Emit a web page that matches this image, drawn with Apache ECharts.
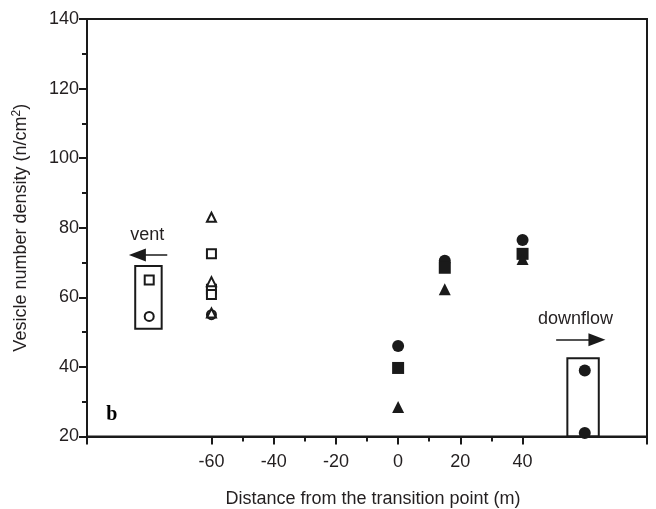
<!DOCTYPE html>
<html>
<head>
<meta charset="utf-8">
<script src="https://cdn.jsdelivr.net/npm/echarts@6/dist/echarts.min.js"></script>
<style>
  html, body { margin: 0; padding: 0; background: #fff; }
  #chart { width: 656px; height: 509px; }
</style>
</head>
<body>
<div id="chart"></div>
<script>
// values (x = distance in m, y = vesicles per cm2)
const openCircle = [[-80, 54.5], [-60, 55]];
const openSquare = [[-80, 65], [-60, 72.5], [-60, 62.3], [-60, 60.8]];
const openTriangle = [[-60, 83], [-60, 64.5], [-60, 55.5]];
const filledCircle = [[0, 46], [15, 70.5], [40, 76.5], [60, 39], [60, 21]];
const filledSquare = [[0, 39.7], [15, 68.5], [40, 72.5]];
const filledTriangle = [[0, 28.5], [15, 62.3], [40, 71]];

const xLabels = [-60, -40, -20, 0, 20, 40];
const xMajorTicks = [-100, -60, -40, -20, 0, 20, 40, 80];
const xMinorTicks = [-50, -30, -10, 10, 30];

// boxes, arrows and notes (data coords)
const ventBox = [[-84.5, 69], [-76, 51]];
const downflowBox = [[54.4, 42.5], [64.5, 17.9]];
const ventArrow = [[-74.2, 72.2], [-83.8, 72.2]];
const downflowArrow = [[50.8, 47.8], [63.9, 47.8]];
const notes = [
    { text: 'vent', at: [-80.6, 77.8] },
    { text: 'downflow', at: [57, 53.7] },
    { text: 'b', at: [-92, 26.2], serif: true }
];

const ink = '#1a1a1a';
const textColor = '#231f20';
const font = '"Liberation Sans", Arial, Helvetica, sans-serif';

document.addEventListener('DOMContentLoaded', function () {
    const chart = echarts.init(document.getElementById('chart'));

    function openSeries(symbol, data) {
        return {
            type: 'scatter', symbol: symbol, symbolSize: 9, data: data,
            itemStyle: { color: '#fff', borderColor: ink, borderWidth: 2, opacity: 1 },
            silent: true, z: 3
        };
    }
    function filledSeries(symbol, data, size) {
        return {
            type: 'scatter', symbol: symbol, symbolSize: size, data: data,
            itemStyle: { color: ink, opacity: 1 },
            silent: true, z: 3
        };
    }

    const option = {
        animation: false,
        grid: {
            left: 87, right: 9, top: 19, bottom: 72.5,
            outerBoundsMode: 'none', containLabel: false,
            show: true, borderColor: ink, borderWidth: 2,
            backgroundColor: 'transparent'
        },
        xAxis: [
            {
                type: 'value', min: -100, max: 80, interval: 20,
                position: 'bottom',
                name: 'Distance from the transition point (m)',
                nameLocation: 'middle', nameGap: 54,
                nameTextStyle: { fontFamily: font, fontSize: 18, color: textColor, padding: [0, 0, 0, 12] },
                axisLine: { onZero: false, lineStyle: { color: ink, width: 2 } },
                axisTick: { customValues: xMajorTicks, length: 8, lineStyle: { color: ink, width: 2 } },
                axisLabel: {
                    customValues: xLabels, margin: 17,
                    fontFamily: font, fontSize: 18, color: textColor
                },
                splitLine: { show: false }
            },
            {
                type: 'value', min: -100, max: 80, interval: 20,
                position: 'bottom',
                axisLine: { show: false, onZero: false },
                axisTick: { customValues: xMinorTicks, length: 5, lineStyle: { color: ink, width: 2 } },
                axisLabel: { show: false },
                splitLine: { show: false }
            }
        ],
        yAxis: {
            type: 'value', min: 20, max: 140, interval: 20,
            position: 'left',
            name: 'Vesicle number density (n/cm{sup|2})',
            nameLocation: 'middle', nameGap: 56,
            nameTextStyle: {
                fontFamily: font, fontSize: 18, color: textColor,
                rich: { sup: { fontFamily: font, fontSize: 12, color: textColor, padding: [0, 0, 8, 0] } }
            },
            axisLine: { onZero: false, lineStyle: { color: ink, width: 2 } },
            axisTick: { length: 8, lineStyle: { color: ink, width: 2 } },
            minorTick: { show: true, splitNumber: 2, length: 5, lineStyle: { color: ink, width: 2 } },
            axisLabel: { margin: 8, fontFamily: font, fontSize: 18, color: textColor },
            splitLine: { show: false }
        },
        series: [
            openSeries('circle', openCircle),
            openSeries('rect', openSquare),
            openSeries('triangle', openTriangle),
            filledSeries('circle', filledCircle, 12),
            filledSeries('rect', filledSquare, 12),
            filledSeries('triangle', filledTriangle, 12),
            {
                type: 'scatter', symbolSize: 0, clip: false, silent: true, z: 4,
                itemStyle: { opacity: 1 },
                data: notes.map(function (n) {
                    return {
                        value: n.at,
                        label: n.serif
                            ? { formatter: n.text, fontFamily: '"Liberation Serif", "Times New Roman", serif', fontWeight: 'bold', fontSize: 20, color: '#000' }
                            : { formatter: n.text }
                    };
                }),
                label: { show: true, position: 'inside', fontFamily: font, fontSize: 18, color: textColor, opacity: 1 },
                markArea: {
                    silent: true,
                    itemStyle: { color: 'rgba(0,0,0,0)', borderColor: ink, borderWidth: 2, opacity: 1 },
                    label: { show: false },
                    data: [
                        [{ coord: ventBox[0] }, { coord: ventBox[1] }],
                        [{ coord: downflowBox[0] }, { coord: downflowBox[1] }]
                    ]
                },
                markLine: {
                    silent: true, animation: false,
                    symbol: ['none', 'triangle'], symbolSize: [13, 17],
                    lineStyle: { color: ink, width: 1.5, type: 'solid', opacity: 1 },
                    itemStyle: { color: ink },
                    label: { show: false },
                    data: [
                        [{ coord: ventArrow[0] }, { coord: ventArrow[1] }],
                        [{ coord: downflowArrow[0] }, { coord: downflowArrow[1] }]
                    ]
                }
            }
        ]
    };
    chart.setOption(option);
});
</script>
</body>
</html>
